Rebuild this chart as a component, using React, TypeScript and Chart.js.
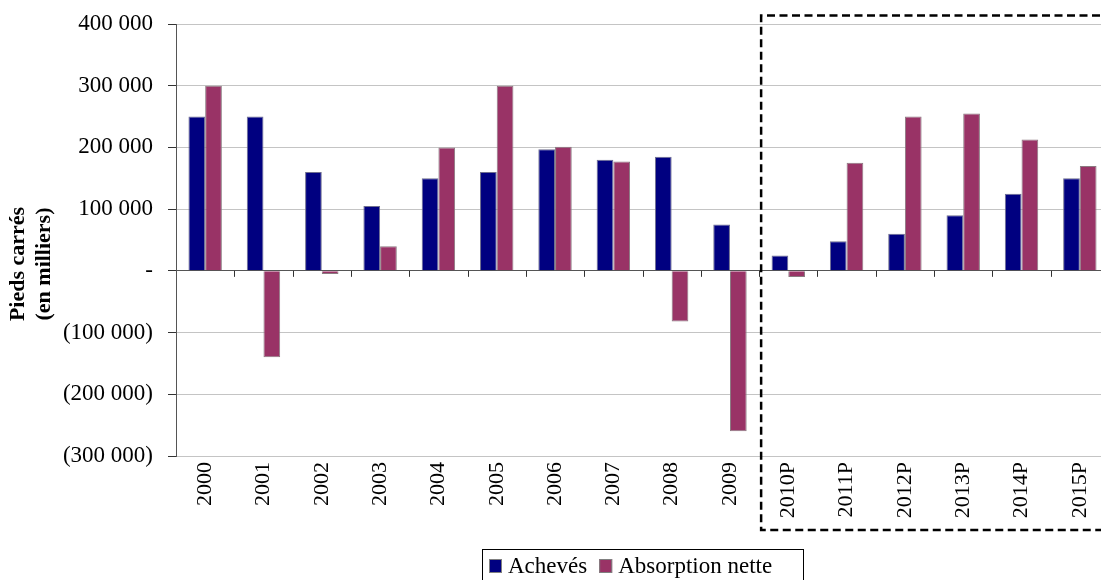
import React, { useEffect, useRef } from "react";
import { Chart, registerables } from "chart.js";

Chart.register(...registerables);

const categories = [
  "2000", "2001", "2002", "2003", "2004", "2005", "2006", "2007", "2008", "2009",
  "2010P", "2011P", "2012P", "2013P", "2014P", "2015P",
];
const acheves = [
  250000, 250000, 160000, 105000, 150000, 160000, 197000, 180000, 185000, 75000,
  25000, 48000, 60000, 90000, 125000, 150000,
];
const absorptionNette = [
  300000, -140000, -5000, 40000, 200000, 300000, 201000, 177000, -82000, -260000,
  -10000, 175000, 250000, 255000, 213000, 170000,
];
const seriesLabels = ["Achevés", "Absorption nette"];
const seriesColors = ["#000080", "#993366"];
const yTitleLines = ["Pieds carrés", "(en milliers)"];
const forecastStartIndex = 10;

const SERIF = '"Liberation Serif", "Times New Roman", serif';

function fmtThousands(v: number): string {
  return String(Math.abs(v)).replace(/\B(?=(\d{3})+(?!\d))/g, " ");
}
function fmtTick(v: number): string {
  if (v === 0) return "-";
  if (v < 0) return "(" + fmtThousands(v) + ")";
  return fmtThousands(v);
}

const decorPlugin = {
  id: "decor",
  afterDraw(chart: any) {
    const ctx = chart.ctx as CanvasRenderingContext2D;
    const xs = chart.scales.x;
    const ys = chart.scales.y;
    const area = chart.chartArea;
    const n = chart.data.labels.length;
    const step = xs.getPixelForValue(1) - xs.getPixelForValue(0);
    const zeroY = ys.getPixelForValue(0);

    // tick marks on zero line at category boundaries
    ctx.save();
    ctx.strokeStyle = "#333";
    ctx.lineWidth = 1;
    for (let i = 1; i <= n; i++) {
      const bx = Math.round(xs.getPixelForValue(i) - step / 2) + 0.5;
      ctx.beginPath();
      ctx.moveTo(bx, zeroY);
      ctx.lineTo(bx, zeroY + 6);
      ctx.stroke();
    }
    ctx.restore();

    // dashed forecast box
    const boxLeft = xs.getPixelForValue(forecastStartIndex) - step / 2 + 2;
    const boxTop = area.top - 8.5;
    const boxBottom = 530;
    ctx.save();
    ctx.strokeStyle = "#000";
    ctx.lineWidth = 2.5;
    ctx.setLineDash([8, 4.5]);
    ctx.beginPath();
    ctx.moveTo(chart.width + 5, boxTop);
    ctx.lineTo(boxLeft, boxTop);
    ctx.lineTo(boxLeft, boxBottom);
    ctx.lineTo(chart.width + 5, boxBottom);
    ctx.stroke();
    ctx.restore();

    // y-axis title
    ctx.save();
    ctx.fillStyle = "#000";
    ctx.font = "bold 22px " + SERIF;
    ctx.textAlign = "center";
    ctx.textBaseline = "middle";
    const tx = [18, 44];
    yTitleLines.forEach((t, i) => {
      ctx.save();
      ctx.translate(tx[i], 264);
      ctx.rotate(-Math.PI / 2);
      ctx.fillText(t, 0, 0);
      ctx.restore();
    });
    ctx.restore();

    // legend
    ctx.save();
    const lx = 482, ly = 549, lw = 321, lh = 45;
    ctx.fillStyle = "#fff";
    ctx.fillRect(lx, ly, lw, lh);
    ctx.strokeStyle = "#000";
    ctx.lineWidth = 1;
    ctx.strokeRect(lx + 0.5, ly + 0.5, lw, lh);
    ctx.font = "23px " + SERIF;
    ctx.textBaseline = "alphabetic";
    ctx.textAlign = "left";
    let cx = 489;
    chart.data.datasets.forEach((ds: any) => {
      ctx.fillStyle = ds.backgroundColor;
      ctx.fillRect(cx, 559, 13, 14);
      ctx.strokeStyle = "#808080";
      ctx.strokeRect(cx + 0.5, 559.5, 12, 13);
      ctx.fillStyle = "#000";
      ctx.fillText(ds.label, cx + 19, 573);
      cx += 19 + ctx.measureText(ds.label).width + 12;
    });
    ctx.restore();
  },
};

export default function App() {
  const canvasRef = useRef<HTMLCanvasElement | null>(null);

  useEffect(() => {
    const canvas = canvasRef.current;
    if (!canvas) return;
    const chart = new Chart(canvas, {
      type: "bar",
      data: {
        labels: categories,
        datasets: [
          {
            label: seriesLabels[0],
            data: acheves,
            backgroundColor: seriesColors[0],
            borderColor: "#6f6f8f",
            borderWidth: 1,
            barPercentage: 1,
            categoryPercentage: 0.573,
          },
          {
            label: seriesLabels[1],
            data: absorptionNette,
            backgroundColor: seriesColors[1],
            borderColor: "#8a7a80",
            borderWidth: 1,
            barPercentage: 1,
            categoryPercentage: 0.573,
          },
        ],
      },
      plugins: [decorPlugin],
      options: {
        responsive: false,
        animation: false,
        devicePixelRatio: 1,
        layout: { padding: { top: 24, right: 11, bottom: 0, left: 0 } },
        plugins: {
          legend: { display: false },
          tooltip: { enabled: false },
          title: { display: false },
        },
        scales: {
          x: {
            grid: { display: false, drawTicks: false },
            border: { display: false },
            ticks: {
              minRotation: 90,
              maxRotation: 90,
              padding: 6,
              color: "#000",
              font: { family: SERIF, size: 22 },
              autoSkip: false,
            },
            afterFit: (scale: any) => {
              scale.height = 124;
              scale.paddingLeft = 0;
              scale.paddingRight = 0;
            },
          },
          y: {
            min: -300000,
            max: 400000,
            ticks: {
              stepSize: 100000,
              padding: 15,
              color: "#000",
              font: { family: SERIF, size: 23 },
              callback: (v: any) => fmtTick(Number(v)),
            },
            grid: {
              color: (c: any) => (c.tick && c.tick.value === 0 ? "#555" : "#c4c4c4"),
              tickColor: "#333",
              tickLength: 8,
            },
            border: { display: true, color: "#555", width: 1 },
            afterFit: (scale: any) => {
              scale.width = 176;
              scale.paddingTop = 0;
              scale.paddingBottom = 0;
            },
          },
        },
      },
    });
    return () => chart.destroy();
  }, []);

  return (
    <div
      style={{
        position: "absolute",
        left: 0,
        top: 0,
        width: 1101,
        height: 580,
        overflow: "hidden",
        background: "#fff",
      }}
    >
      <canvas ref={canvasRef} width={1120} height={580} style={{ display: "block" }} />
    </div>
  );
}
